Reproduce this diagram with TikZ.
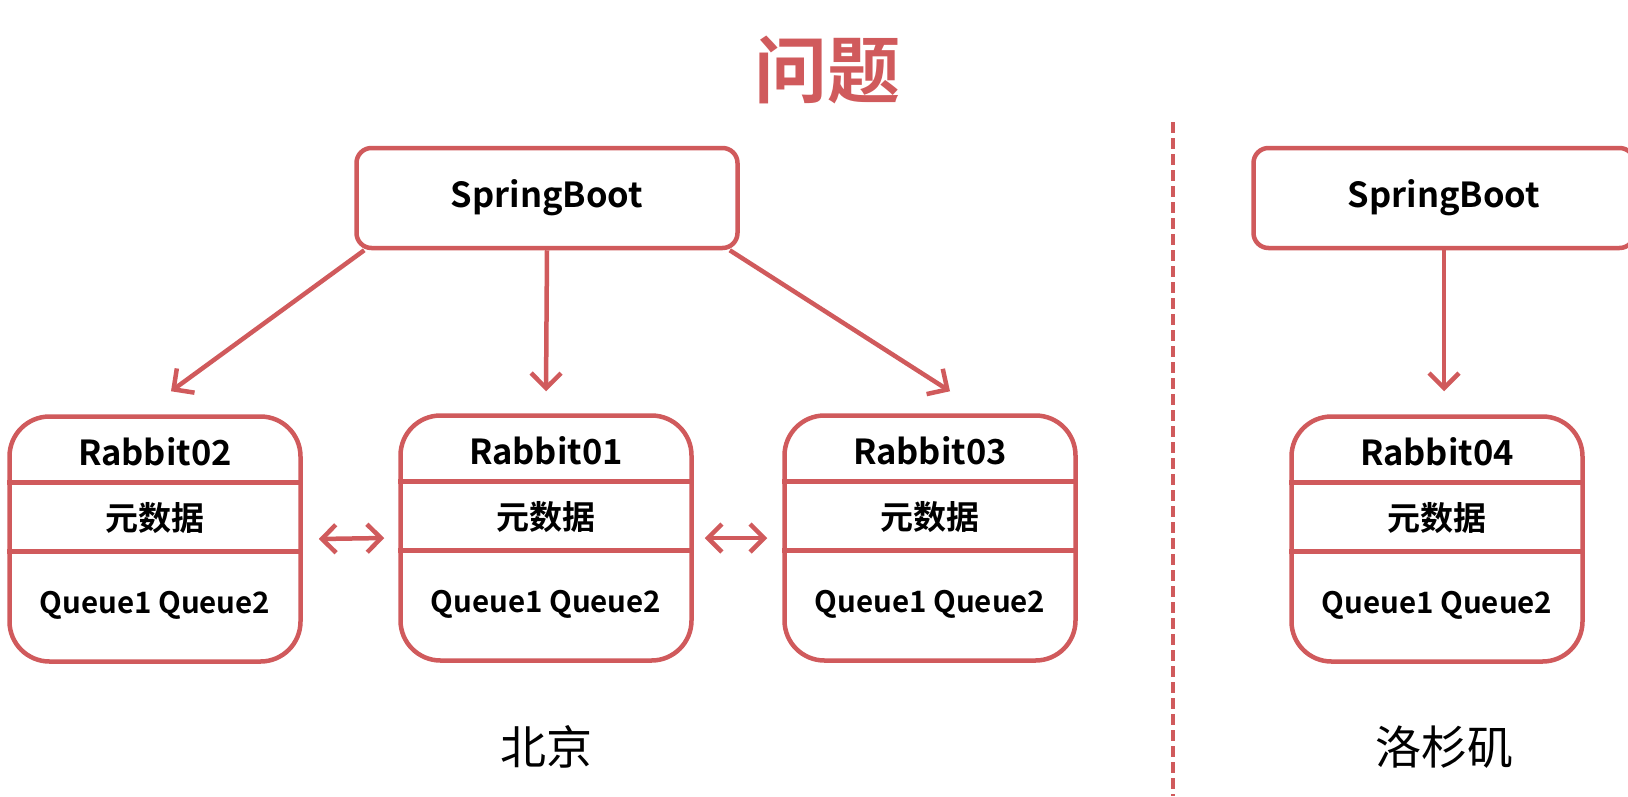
\documentclass[tikz,border=0pt]{standalone}
\usepackage{fontspec}
\setmainfont{Noto Sans CJK SC}[BoldFont={Noto Sans CJK SC Bold}]
\usepackage{xcolor}
\usepackage{tikz}
\usetikzlibrary{arrows.meta,positioning}
\definecolor{brick}{HTML}{D05A5C}

\begin{document}
\begin{tikzpicture}[
  x=1pt,y=-1pt,
  sbox/.style={draw=brick,line width=4.5pt,rounded corners=15pt,fill=white,minimum width=381pt,minimum height=100pt,font=\fontsize{34.5}{40}\selectfont\bfseries},
  rbox/.style={draw=brick,line width=4.5pt,rounded corners=40pt,fill=white,minimum width=291pt,minimum height=245pt},
  rtitle/.style={font=\fontsize{34.5}{40}\selectfont\bfseries},
  metalbl/.style={font=\fontsize{33}{38}\selectfont\bfseries},
  queuelbl/.style={font=\fontsize{29.5}{34}\selectfont\bfseries},
  citylbl/.style={font=\fontsize{46}{52}\selectfont},
  sep/.style={draw=brick,line width=4.5pt},
  arr/.style={-{Straight Barb[length=15pt,width=30pt]},line width=4.5pt,draw=brick},
  dbl/.style={{Straight Barb[length=14pt,width=28pt]}-{Straight Barb[length=14pt,width=28pt]},line width=4.5pt,draw=brick}
]
\useasboundingbox (0,0) rectangle (1628,796);
\clip (0,0) rectangle (1628,796);
% title
\node[font=\fontsize{73}{80}\selectfont\bfseries,text=brick] (ttl) at (827,70) {问题};
% Beijing side
\node[sbox] (sb1) at (547,198) {SpringBoot};
\node[rbox] (r2) at (155,539) {};
\node[rbox] (r1) at (546,538) {};
\node[rbox] (r3) at (930,538) {};
% Los Angeles side
\node[sbox] (sb2) at (1444,198) {SpringBoot};
\node[rbox] (r4) at (1437,539) {};
% inner rows of the brokers
\foreach \r in {r1,r2,r3,r4}{
  \draw[sep] ([yshift=-68pt]\r.north west) -- ([yshift=-68pt]\r.north east);
  \draw[sep] ([yshift=-137pt]\r.north west) -- ([yshift=-137pt]\r.north east);
  \node[metalbl] at ([yshift=-104pt]\r.north) {元数据};
  \node[queuelbl] at ([yshift=-191pt]\r.north) {Queue1 Queue2};
}
\node[rtitle] (n2) at ([yshift=-37pt]r2.north) {Rabbit02};
\node[rtitle] (n1) at ([yshift=-37pt]r1.north) {Rabbit01};
\node[rtitle] (n3) at ([yshift=-37pt]r3.north) {Rabbit03};
\node[rtitle] (n4) at ([yshift=-37pt]r4.north) {Rabbit04};
% connectors
\draw[arr] ([xshift=10pt]sb1.south west) -- ([xshift=16pt,yshift=23pt]r2.north);
\draw[arr] (sb1.south) -- ([yshift=22pt]r1.north);
\draw[arr] ([xshift=-10pt]sb1.south east) -- ([xshift=20pt,yshift=22pt]r3.north);
\draw[arr] (sb2.south) -- ([xshift=7pt,yshift=23pt]r4.north);
\draw[dbl] ([xshift=16pt]r2.east) -- ([xshift=-14pt]r1.west);
\draw[dbl] ([xshift=11pt]r1.east) -- ([xshift=-15pt]r3.west);
% divider
\coordinate (dtop) at (1173,122);
\coordinate (dbot) at (1173,796);
\draw[brick,line width=4pt,dash pattern=on 11pt off 5pt] (dtop) -- (dbot);
% places
\node[citylbl] (bj) at (546,747) {北京};
\node[citylbl,anchor=west] (la) at (1372,747) {洛杉矶};
\end{tikzpicture}
\end{document}
